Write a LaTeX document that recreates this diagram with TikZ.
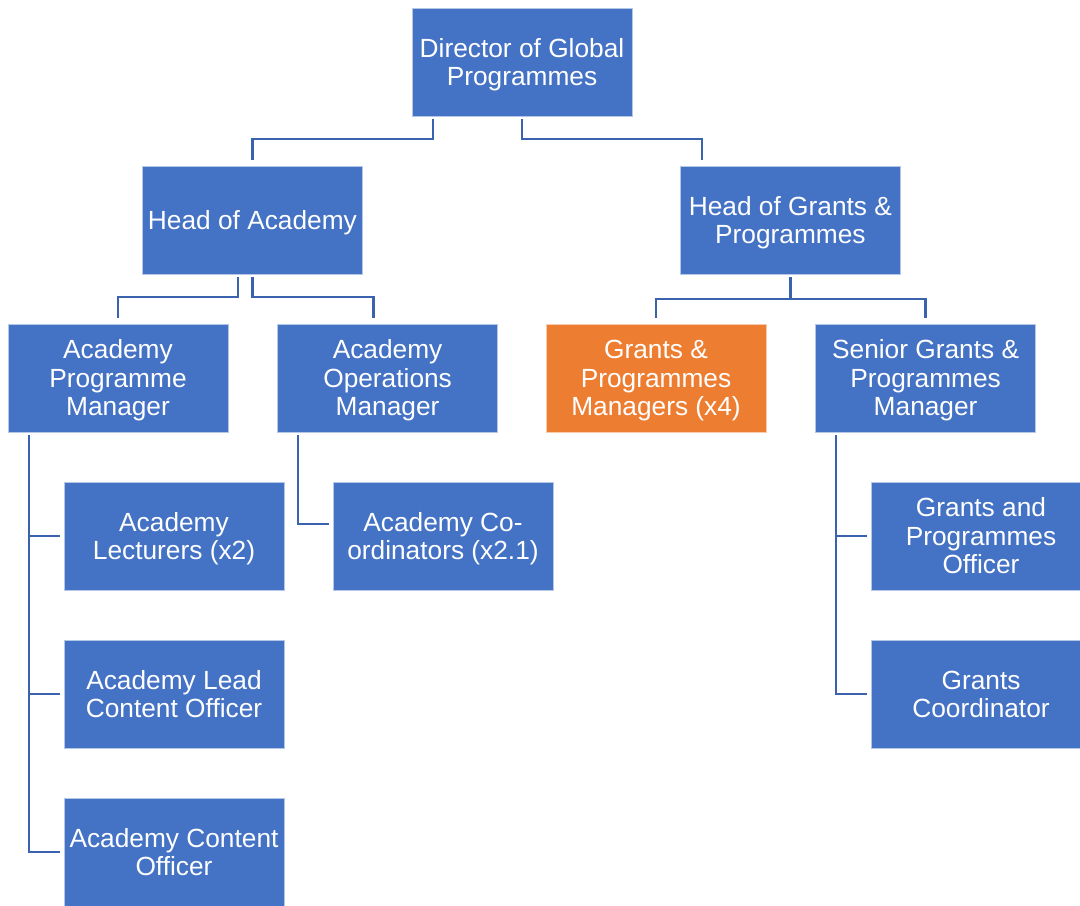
\documentclass[tikz,border=0pt]{standalone}
\usepackage{fontspec}
\setmainfont{Liberation Sans}
\usepackage{tikz}
\definecolor{boxblue}{RGB}{68,114,196}
\definecolor{boxorange}{RGB}{237,125,49}
\definecolor{linkblue}{RGB}{59,98,174}

\begin{document}
\begin{tikzpicture}[font=\fontsize{18.7}{20}\selectfont]
			\useasboundingbox (0,0) rectangle (27,-22.625);
			\tikzstyle{role}=[rectangle,minimum width=5.5cm,minimum height=2.7cm,inner sep=0.05cm,text width=5.4cm,align=flush center,text=white,fill=boxblue,draw=white!60!boxblue,line width=0.4pt,
				execute at begin node={\rule{0pt}{16.9pt}},execute at end node={\rule[-4pt]{0pt}{0pt}}]
			\tikzstyle{link}=[draw=linkblue,line width=1.9pt]
			
			%% Top
			\draw (13.05,-1.55) node [role] (dir) {Director of Global\\Programmes};
			
			%% Heads
			\draw (6.31,-5.5) node [role] (hoa) {Head of Academy};
			\draw (19.76,-5.5) node [role] (hog) {Head of Grants \&\\Programmes};
			
			%% Managers
			\draw (2.95,-9.45) node [role] (apm) {Academy\\Programme\\Manager};
			\draw (9.69,-9.45) node [role] (aom) {Academy\\Operations\\Manager};
			\draw (16.4,-9.45) node [role,fill=boxorange,draw=white!60!boxorange] (gpm) {Grants \&\\Programmes\\Managers (x4)};
			\draw (23.14,-9.45) node [role] (sgpm) {Senior Grants \&\\Programmes\\Manager};
			
			%% Staff
			\draw (4.35,-13.4) node [role] (lec) {Academy\\Lecturers (x2)};
			\draw (11.075,-13.4) node [role] (coord) {Academy Co-\\ordinators (x2.1)};
			\draw (24.525,-13.4) node [role] (gpo) {Grants and\\Programmes\\Officer};
			\draw (4.35,-17.35) node [role] (alco) {Academy Lead\\Content Officer};
			\draw (24.525,-17.35) node [role] (gc) {Grants\\Coordinator};
			\draw (4.35,-21.3) node [role] (aco) {Academy Content\\Officer};
			
			%% Director to heads
			\draw [link] ([xshift=-2.225cm,yshift=-2pt]dir.south) -- ++(0,-0.5) -| ([yshift=4pt]hoa.north);
			\draw [link] ([yshift=-2pt]dir.south) -- ++(0,-0.5) -| ([xshift=-2.21cm,yshift=4pt]hog.north);
			
			%% Heads to managers
			\draw [link] ([xshift=-0.36cm,yshift=-2pt]hoa.south) -- ++(0,-0.5) -| ([yshift=4pt]apm.north);
			\draw [link] ([yshift=-2pt]hoa.south) -- ++(0,-0.5) -| ([xshift=-0.36cm,yshift=4pt]aom.north);
			\draw [link] ([yshift=-2pt]hog.south) -- ++(0,-0.55) -| ([yshift=4pt]gpm.north);
			\draw [link] ([yshift=-2pt]hog.south) -- ++(0,-0.55) -| ([yshift=4pt]sgpm.north);
			
			%% Managers to staff
			\draw [link] ([xshift=-2.225cm,yshift=-2pt]apm.south) |- ([xshift=-3pt]lec.west);
			\draw [link] ([xshift=-2.225cm,yshift=-2pt]apm.south) |- ([xshift=-3pt]alco.west);
			\draw [link] ([xshift=-2.225cm,yshift=-2pt]apm.south) |- ([xshift=-3pt]aco.west);
			\draw [link] ([xshift=-2.24cm,yshift=-2pt]aom.south) |- ([xshift=-3pt,yshift=0.3cm]coord.west);
			\draw [link] ([xshift=-2.24cm,yshift=-2pt]sgpm.south) |- ([xshift=-3pt]gpo.west);
			\draw [link] ([xshift=-2.24cm,yshift=-2pt]sgpm.south) |- ([xshift=-3pt]gc.west);
			
		\end{tikzpicture}
\end{document}
